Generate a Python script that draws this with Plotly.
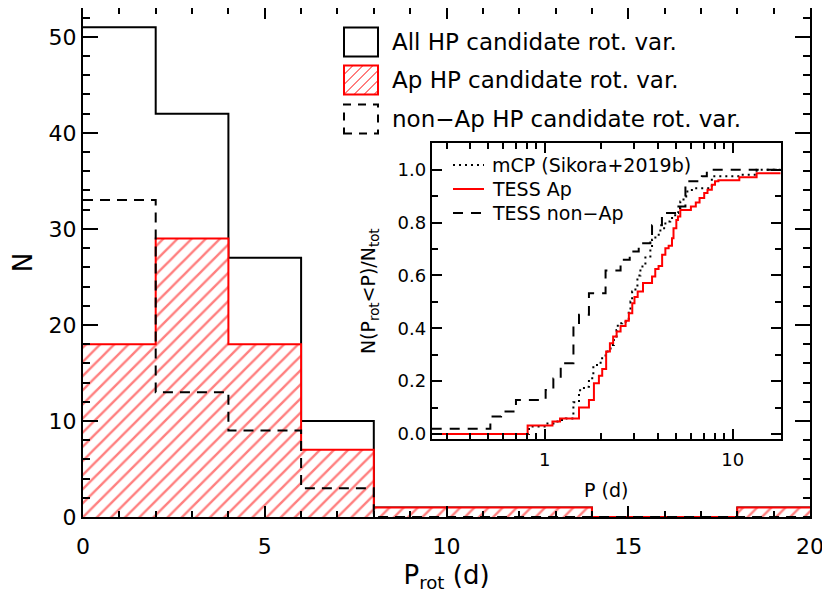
import numpy as np
import plotly.graph_objects as go

# main histogram (bins of 2 d)
bin_edges = [0, 2, 4, 6, 8, 10, 12, 14, 16, 18, 20]
n_all = [51, 42, 27, 10, 1, 1, 1, 0, 0, 1]
n_ap = [18, 29, 18, 7, 1, 1, 1, 0, 0, 1]
n_nonap = [33, 13, 9, 3, 0, 0, 0, 0, 0, 0]

# inset cumulative distributions (period in d, fraction)
mcp_p = [0.517, 0.823, 1.033, 1.168, 1.292, 1.402, 1.419, 1.52, 1.615, 1.717, 1.812, 1.981,
         2.105, 2.238, 2.33, 2.408, 2.445, 2.58, 2.743, 2.797, 2.856, 2.915, 3.035, 3.11,
         3.226, 3.43, 3.645, 3.72, 3.875, 4.12, 4.38, 4.65, 4.94, 5.13, 5.26, 5.47, 5.655,
         6.06, 7.74, 10.93, 13.4, 18.0]
mcp_f = [0.0, 0.028, 0.04, 0.053, 0.059, 0.072, 0.12, 0.166, 0.179, 0.211, 0.261, 0.287,
         0.312, 0.337, 0.369, 0.394, 0.419, 0.425, 0.432, 0.47, 0.501, 0.539, 0.558, 0.60,
         0.634, 0.672, 0.703, 0.735, 0.754, 0.779, 0.804, 0.817, 0.836, 0.855, 0.88, 0.899,
         0.918, 0.93, 0.975, 0.981, 1.0, 1.0]

ap_p = [0.25, 0.81, 1.098, 1.205, 1.52, 1.717, 1.825, 1.94, 2.02, 2.12, 2.22, 2.31, 2.41,
        2.53, 2.69, 2.80, 2.92, 3.0, 3.12, 3.33, 3.72, 3.87, 4.03, 4.21, 4.38, 4.56, 4.75,
        4.84, 5.01, 5.11, 5.26, 5.99, 6.36, 6.66, 7.05, 7.34, 7.74, 8.05, 8.39, 10.84, 13.4, 18.0]
ap_f = [0.0, 0.032, 0.047, 0.059, 0.10, 0.129, 0.192, 0.22, 0.246, 0.312, 0.343, 0.369, 0.388,
        0.409, 0.429, 0.457, 0.495, 0.518, 0.539, 0.571, 0.596, 0.624, 0.636, 0.678, 0.703,
        0.712, 0.741, 0.779, 0.81, 0.823, 0.848, 0.861, 0.876, 0.893, 0.912, 0.924, 0.943,
        0.956, 0.96, 0.972, 0.987, 0.987]

nonap_p = [0.25, 0.513, 0.585, 0.702, 1.01, 1.11, 1.215, 1.42, 1.52, 1.717, 2.105, 2.53,
           2.83, 3.16, 3.645, 3.72, 4.2, 5.05, 5.6, 6.85, 7.28, 18.0]
nonap_f = [0.02, 0.066, 0.085, 0.129, 0.167, 0.21, 0.268, 0.407, 0.451, 0.533, 0.619, 0.659,
           0.691, 0.722, 0.747, 0.79, 0.836, 0.861, 0.956, 0.975, 1.0, 1.0]

FONT = "DejaVu Sans"
OFF = 8  # page body margin
W, H = 830 - OFF, 593 - OFF
# plot area in window pixels: x 83..810, y 8..517
ML, MR, MT, MB = 83 - OFF, 830 - 810, 0, 593 - 517


def paper(xp, yp):
    """window pixel position -> paper coordinates"""
    xf, yf = xp - OFF, yp - OFF
    return (xf - ML) / (W - ML - MR), (H - MB - yf) / (H - MT - MB)


fig = go.Figure()

# histograms as step outlines
fig.add_trace(go.Scatter(
    x=bin_edges, y=n_all + [n_all[-1]], line_shape='hv', mode='lines',
    line=dict(color='black', width=2), showlegend=False))
fig.add_trace(go.Scatter(
    x=bin_edges, y=n_ap + [n_ap[-1]], line_shape='hv', mode='lines',
    line=dict(color='red', width=2), fill='tozeroy', fillcolor='white',
    fillpattern=dict(shape='/', fgcolor='red', bgcolor='white', size=10, solidity=0.24),
    showlegend=False))
fig.add_trace(go.Scatter(
    x=bin_edges, y=n_nonap + [n_nonap[-1]], line_shape='hv', mode='lines',
    line=dict(color='black', width=2, dash='10px,7px'), showlegend=False))

# inset CDFs
fig.add_trace(go.Scatter(
    x=mcp_p, y=mcp_f, line_shape='hv', mode='lines', xaxis='x2', yaxis='y2',
    line=dict(color='black', width=2, dash='2px,4px'), showlegend=False))
fig.add_trace(go.Scatter(
    x=ap_p, y=ap_f, line_shape='hv', mode='lines', xaxis='x2', yaxis='y2',
    line=dict(color='red', width=2), showlegend=False))
fig.add_trace(go.Scatter(
    x=nonap_p, y=nonap_f, line_shape='hv', mode='lines', xaxis='x2', yaxis='y2',
    line=dict(color='black', width=2, dash='10px,8px'), showlegend=False))

ax_common = dict(showgrid=False, zeroline=False, showline=True, linecolor='black',
                 linewidth=2, ticks='inside', tickcolor='black', tickwidth=2, mirror='ticks',
                 automargin=False)

x0, y0 = paper(431.7, 439.3)
x1, y1 = paper(780.7, 143.3)

fig.update_layout(
    width=W, height=H,
    margin=dict(l=ML, r=MR, t=MT, b=MB, pad=0),
    paper_bgcolor='white', plot_bgcolor='white',
    font=dict(family=FONT, size=22, color='black'),
    xaxis=dict(range=[0, 20], dtick=5, ticklen=11, ticklabelstandoff=9,
               minor=dict(ticks='inside', dtick=1, ticklen=6, tickwidth=2, tickcolor='black'),
               title=dict(text='P<sub>rot</sub> (d)', standoff=9), **ax_common),
    yaxis=dict(range=[0, 53], dtick=10, ticklen=15,
               minor=dict(ticks='inside', dtick=2, ticklen=7, tickwidth=2, tickcolor='black'),
               title=dict(text='N', standoff=28), **ax_common),
    xaxis2=dict(type='log', range=[np.log10(0.25), np.log10(18)], domain=[x0, x1],
                anchor='y2', tickvals=[1, 10], ticktext=['1', '10'], ticklen=10,
                ticklabelstandoff=3, tickfont=dict(size=18),
                minor=dict(ticks='inside', ticklen=6, tickwidth=2, tickcolor='black',
                           tickvals=[0.3, 0.4, 0.5, 0.6, 0.7, 0.8, 0.9,
                                     2, 3, 4, 5, 6, 7, 8, 9]),
                title=dict(text='P (d)', font=dict(size=19), standoff=15), **ax_common),
    yaxis2=dict(range=[-0.02, 1.1], domain=[y0, y1], anchor='x2', dtick=0.2,
                tickformat='.1f', ticklen=10, tickfont=dict(size=18),
                minor=dict(ticks='inside', dtick=0.1, ticklen=6, tickwidth=2, tickcolor='black'),
                title=dict(text='N(P<sub>rot</sub>&lt;P)/N<sub>tot</sub>', font=dict(size=19),
                           standoff=17), **ax_common),
)

shapes = []
annotations = []

# main legend
legend_rows = [(42, 'All HP candidate rot. var.', 'black', 'solid'),
               (80, 'Ap HP candidate rot. var.', 'red', 'solid'),
               (119, 'non\u2212Ap HP candidate rot. var.', 'black', '8px,7px')]
bx0, bx1 = 344, 378
for yc, txt, col, dash in legend_rows:
    ya, yb = yc - 14.5, yc + 14.5
    p0 = paper(bx0, yb)
    p1 = paper(bx1, ya)
    shapes.append(dict(type='rect', xref='paper', yref='paper', x0=p0[0], y0=p0[1],
                       x1=p1[0], y1=p1[1], line=dict(color=col, width=2, dash=dash)))
    annotations.append(dict(xref='paper', yref='paper', x=paper(390, yc)[0],
                            y=paper(390, yc)[1], text=txt, showarrow=False,
                            xanchor='left', yanchor='middle', font=dict(size=23)))
    if col == 'red':
        # hatch inside the legend box
        h = yb - ya
        for k in range(-30, 40, 10):
            xa, xb = bx0 + k, bx0 + k + h
            ys, ye = yb, ya
            if xa < bx0:
                ys = yb - (bx0 - xa)
                xa = bx0
            if xb > bx1:
                ye = ya + (xb - bx1)
                xb = bx1
            if xb <= xa:
                continue
            q0 = paper(xa, ys)
            q1 = paper(xb, ye)
            shapes.append(dict(type='line', xref='paper', yref='paper', x0=q0[0], y0=q0[1],
                               x1=q1[0], y1=q1[1], line=dict(color='red', width=1)))

# inset legend
inset_rows = [(165, 'mCP (Sikora+2019b)', 'black', '2px,4px'),
              (189, 'TESS Ap', 'red', 'solid'),
              (213, 'TESS non\u2212Ap', 'black', '10px,8px')]
for yc, txt, col, dash in inset_rows:
    p0 = paper(453, yc)
    p1 = paper(484, yc)
    shapes.append(dict(type='line', xref='paper', yref='paper', x0=p0[0], y0=p0[1],
                       x1=p1[0], y1=p1[1], line=dict(color=col, width=2, dash=dash)))
    annotations.append(dict(xref='paper', yref='paper', x=paper(490, yc)[0],
                            y=paper(490, yc)[1], text=txt, showarrow=False,
                            xanchor='left', yanchor='middle', font=dict(size=19)))

fig.update_layout(shapes=shapes, annotations=annotations)

fig.write_html("out.html")
